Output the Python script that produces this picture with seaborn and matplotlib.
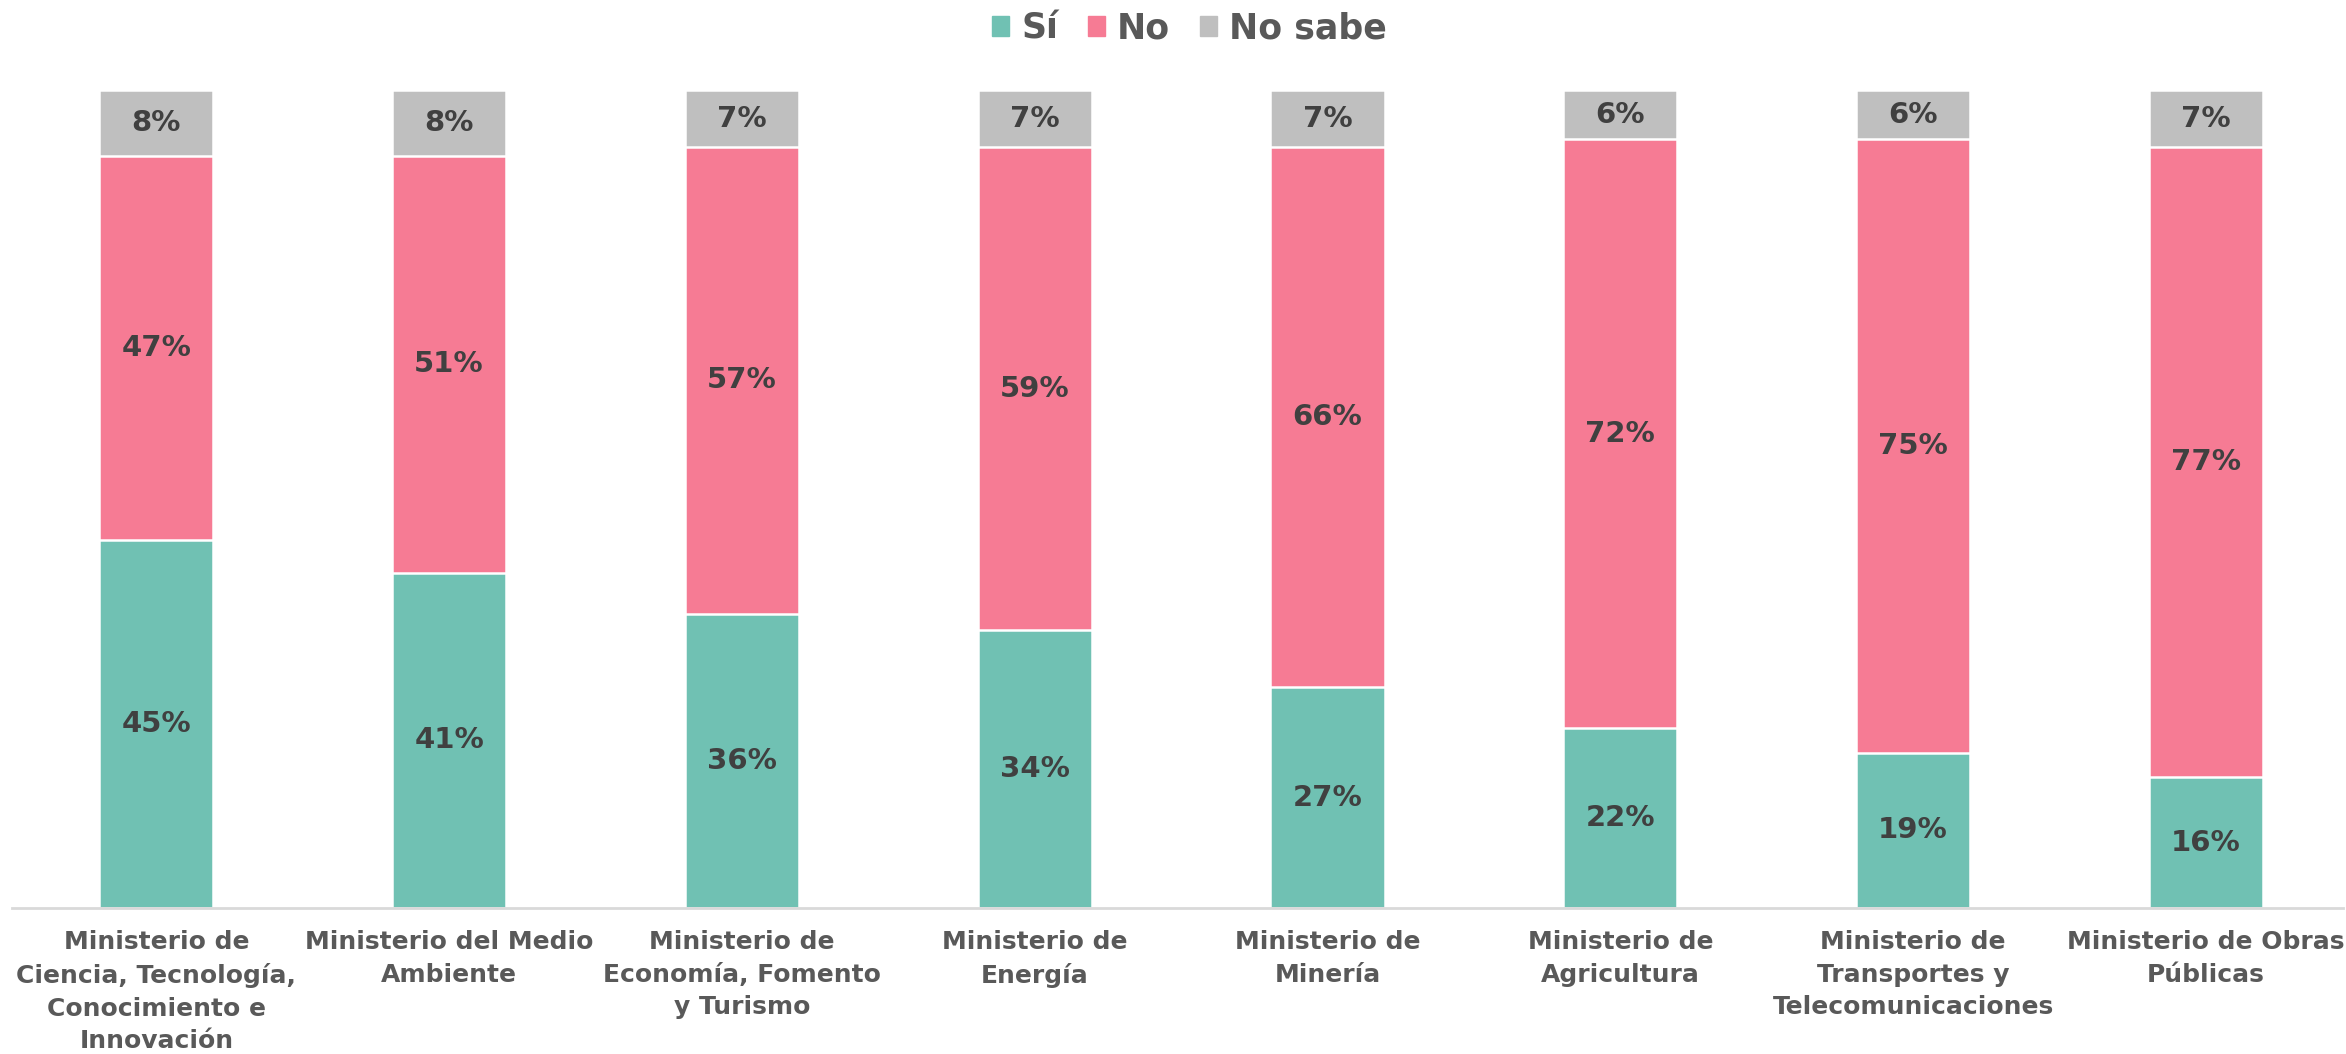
import pandas as pd
import numpy as np
import matplotlib.pyplot as plt
import seaborn as sns

ministerios = [
    "Ministerio de\nCiencia, Tecnología,\nConocimiento e\nInnovación",
    "Ministerio del Medio\nAmbiente",
    "Ministerio de\nEconomía, Fomento\ny Turismo",
    "Ministerio de\nEnergía",
    "Ministerio de\nMinería",
    "Ministerio de\nAgricultura",
    "Ministerio de\nTransportes y\nTelecomunicaciones",
    "Ministerio de Obras\nPúblicas",
]
si = [45, 41, 36, 34, 27, 22, 19, 16]
no = [47, 51, 57, 59, 66, 72, 75, 77]
no_sabe = [8, 8, 7, 7, 7, 6, 6, 7]

colors = {"Sí": "#70C1B3", "No": "#F67B94", "No sabe": "#BFBFBF"}

df = pd.DataFrame({"ministerio": ministerios, "Sí": si, "No": no, "No sabe": no_sabe})
df["top_no"] = df["Sí"] + df["No"]
df["top_ns"] = df["top_no"] + df["No sabe"]

sns.set_style("white")
plt.rcParams["font.family"] = ["DejaVu Sans"]

fig = plt.figure(figsize=(23.46, 10.54), dpi=100)
ax = fig.add_axes([0.0051, 0.1385, 0.9936, 0.776])

bar_kw = dict(width=0.39, edgecolor="white", linewidth=1.8, ax=ax)
sns.barplot(data=df, x="ministerio", y="top_ns", color=colors["No sabe"], saturation=1, **bar_kw)
sns.barplot(data=df, x="ministerio", y="top_no", color=colors["No"], saturation=1, **bar_kw)
sns.barplot(data=df, x="ministerio", y="Sí", color=colors["Sí"], saturation=1, **bar_kw)

# etiquetas centradas en cada segmento
for i, row in df.iterrows():
    for lo, hi, v in [(0, row["Sí"], row["Sí"]),
                      (row["Sí"], row["top_no"], row["No"]),
                      (row["top_no"], row["top_ns"], row["No sabe"])]:
        ax.text(i, (lo + hi) / 2, f"{v}%", ha="center", va="center",
                fontsize=21, fontweight="bold", color="#404040")

ax.set_ylim(0, 100)
ax.set_xlim(-0.493, 7.468)
ax.set_xlabel("")
ax.set_ylabel("")
ax.set_yticks([])
for s in ["top", "left", "right"]:
    ax.spines[s].set_visible(False)
ax.spines["bottom"].set_color("#D9D9D9")
ax.spines["bottom"].set_linewidth(2)
ax.tick_params(axis="x", length=0, pad=16)
for lab in ax.get_xticklabels():
    lab.set_fontsize(18)
    lab.set_fontweight("bold")
    lab.set_color("#595959")
    lab.set_linespacing(1.45)

handles = [plt.Rectangle((0, 0), 1, 1, color=colors[k]) for k in ["Sí", "No", "No sabe"]]
fig.legend(handles, ["Sí", "No", "No sabe"], loc="center", bbox_to_anchor=(0.507, 0.973),
           ncol=3, frameon=False, handlelength=0.5, handleheight=0.5, handletextpad=0.35,
           columnspacing=0.85, prop={"size": 25, "weight": "bold"}, labelcolor="#595959")

fig.savefig("out.png", dpi=100)
